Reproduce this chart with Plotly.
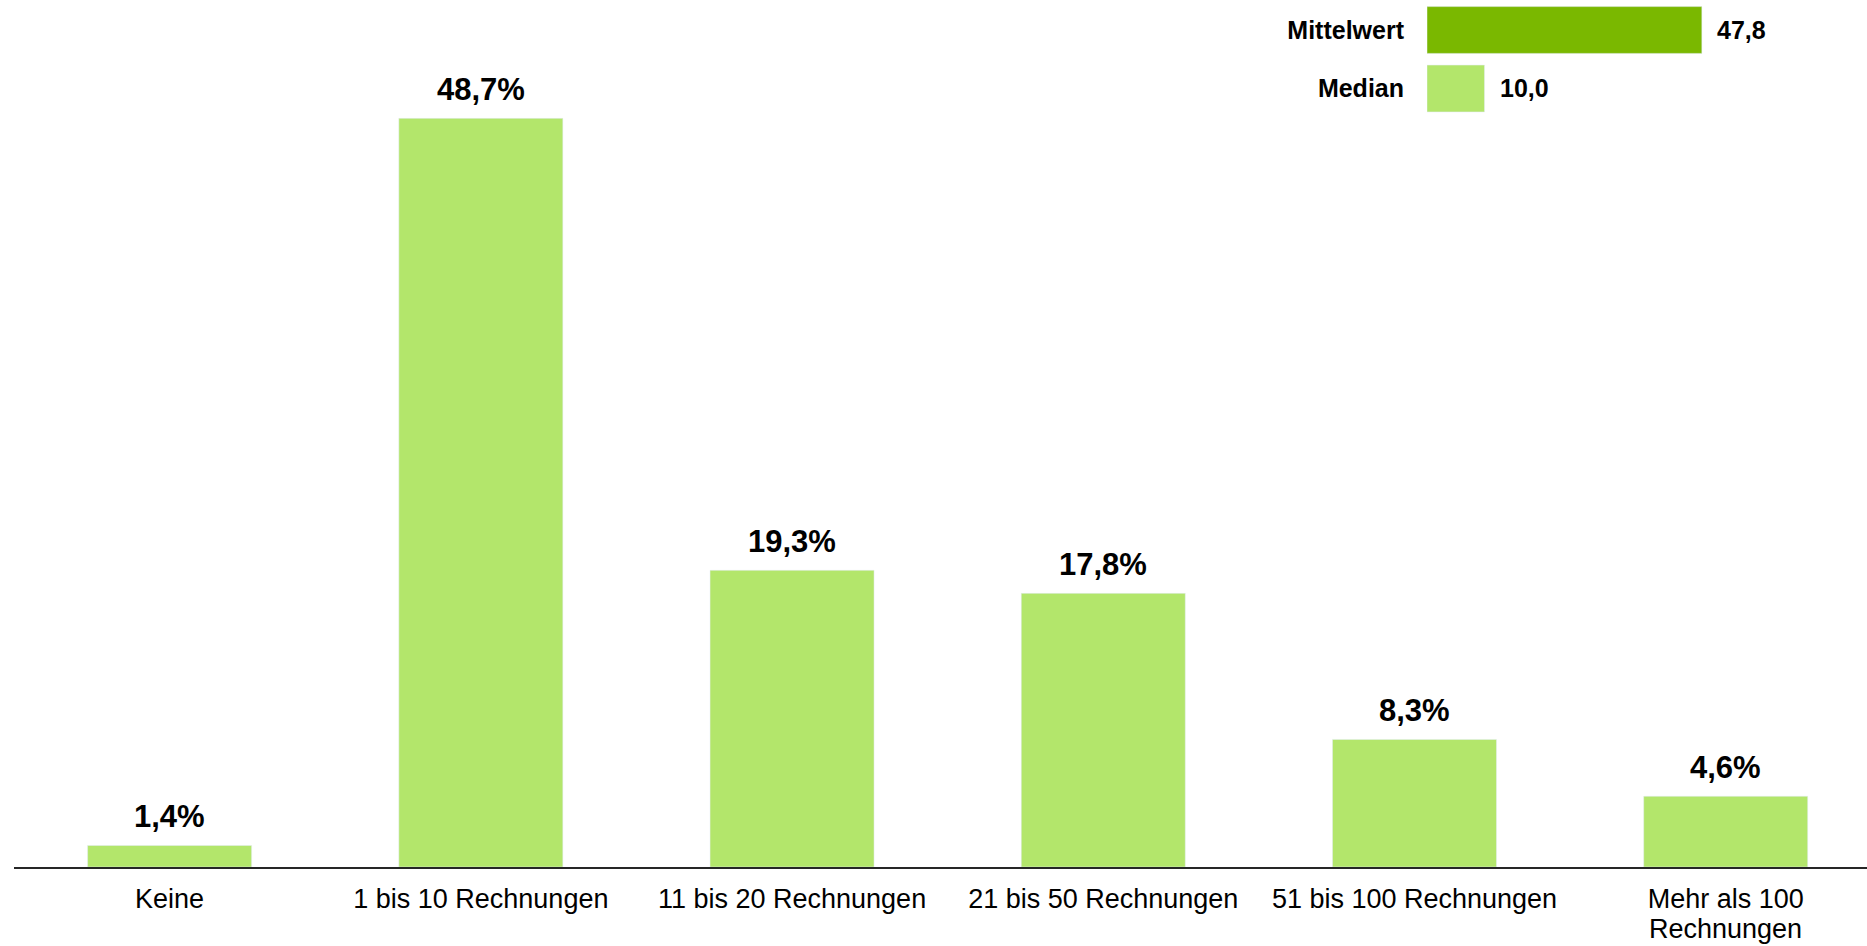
import plotly.graph_objects as go

# main distribution
categories = ['Keine', '1 bis 10 Rechnungen', '11 bis 20 Rechnungen', '21 bis 50 Rechnungen',
              '51 bis 100 Rechnungen', 'Mehr als 100<br>Rechnungen']
shares = [1.4, 48.7, 19.3, 17.8, 8.3, 4.6]
share_labels = ['1,4%', '48,7%', '19,3%', '17,8%', '8,3%', '4,6%']

# summary inset
stat_names = ['Mittelwert', 'Median']
stat_values = [47.8, 10.0]
stat_labels = ['47,8', '10,0']

FONT = 'Liberation Sans, Arial, sans-serif'
LIGHT_GREEN = '#b3e66b'
DARK_GREEN = '#7ab800'

fig = go.Figure()
fig.add_trace(go.Bar(
    x=categories, y=shares, width=0.527,
    marker_color=LIGHT_GREEN, hoverinfo='y', showlegend=False
))
fig.add_trace(go.Bar(
    x=stat_values, y=stat_names, orientation='h', width=0.8,
    marker_color=[DARK_GREEN, LIGHT_GREEN], xaxis='x2', yaxis='y2',
    hoverinfo='x+y', showlegend=False
))

# plotly's 1.3em line height pushes a 2nd tick line off the page, so
# wrapped labels keep their 1st line as tick text and get the rest as an annotation
tick_text = [c.split('<br>')[0] for c in categories]

annotations = []
for c, v, t in zip(categories, shares, share_labels):
    annotations.append(dict(x=c, y=v, text=f'<b>{t}</b>', showarrow=False, xref='x', yref='y',
                            yanchor='bottom', yshift=9,
                            font=dict(family=FONT, size=31, color='#000000')))
    if '<br>' in c:
        annotations.append(dict(x=c, y=0, text=c.split('<br>', 1)[1], showarrow=False,
                                xref='x', yref='y', yanchor='middle', yshift=-62,
                                font=dict(family=FONT, size=27, color='#000000')))
for n, v, t in zip(stat_names, stat_values, stat_labels):
    annotations.append(dict(x=v, y=n, text=f'<b>{t}</b>', showarrow=False, xref='x2', yref='y2',
                            xanchor='left', xshift=13,
                            font=dict(family=FONT, size=25, color='#000000')))

fig.update_layout(
    width=1867,
    height=946,
    margin=dict(l=14, r=0, t=0, b=79),
    paper_bgcolor='white',
    plot_bgcolor='white',
    font=dict(family=FONT, size=27, color='#000000'),
    xaxis=dict(range=[-0.5, 5.454], showline=True, linecolor='#262626', linewidth=1.5,
               showgrid=False, zeroline=False, ticks='', ticklabelstandoff=7, automargin=False,
               tickmode='array', tickvals=categories, ticktext=tick_text,
               tickfont=dict(family=FONT, size=27, color='#000000')),
    yaxis=dict(range=[0, 56.4], visible=False, showgrid=False, zeroline=False, automargin=False),
    xaxis2=dict(domain=[0.76255, 0.94873], range=[0, 60], anchor='y2', visible=False),
    yaxis2=dict(domain=[0.86419, 0.99913], anchor='x2', autorange='reversed', automargin=False,
                showline=False, showgrid=False, zeroline=False, ticks='', ticklabelstandoff=22,
                tickfont=dict(family=FONT, size=25, color='#000000', weight='bold')),
    annotations=annotations,
    bargap=0.47,
)

fig.write_html("out.html", config={'displayModeBar': False},
               post_script="document.body.style.margin='0';")
